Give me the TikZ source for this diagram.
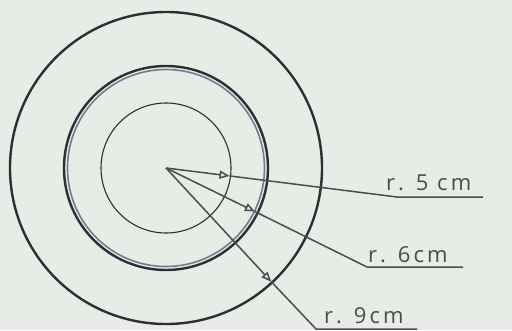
\documentclass[tikz,border=0pt]{standalone}
\usepackage{fontspec}
\setmainfont{Open Sans}
\usetikzlibrary{arrows.meta,calc}
\definecolor{paper}{HTML}{E8ECE6}
\definecolor{ink}{HTML}{2E2E34}
\definecolor{pencil}{HTML}{4A4C4E}
\definecolor{bluish}{HTML}{7A7890}
\tikzset{
  ring/.style={draw=ink, line width=2.4pt},
  thinring/.style={draw=ink, line width=1.1pt},
  radius line/.style={draw=pencil, line width=1.5pt},
  radius arrow/.style={radius line, -{Triangle[open, length=10pt, width=8pt]}},
  lbl/.style={font=\fontsize{22}{22}\selectfont\addfontfeatures{LetterSpace=14}, text=pencil, anchor=base west, inner sep=0pt}
}
\begin{document}
\begin{tikzpicture}[x=1pt,y=-1pt]
\fill[paper] (0,0) rectangle (512,330);
\useasboundingbox (0,0) rectangle (512,330);
\coordinate (c) at (166,168);
% circles
\draw[ring] (c) circle[radius=156pt];
\draw[ring] (c) circle[radius=102pt];
\draw[draw=bluish, line width=1.6pt] (c) circle[radius=98.5pt];
\draw[thinring] (c) circle[radius=65pt];
% arrow tips on circles
\coordinate (t5) at ($(c)+(7.1:64)$);
\coordinate (t6) at ($(c)+(26.1:99)$);
\coordinate (t9) at ($(c)+(47.2:155)$);
% label line corners
\coordinate (e5) at (397,197);
\coordinate (u5) at (483,197);
\coordinate (e6) at (367,267);
\coordinate (u6) at (463,267);
\coordinate (e9) at (316,329);
\coordinate (u9) at (417,329);
\draw[radius arrow] (c) -- (t5);
\draw[radius line] (t5) -- (e5) -- (u5);
\draw[radius arrow] (c) -- (t6);
\draw[radius line] (t6) -- (e6) -- (u6);
\draw[radius arrow] (c) -- (t9);
\draw[radius line] (t9) -- (e9) -- (u9);
% labels
\node[lbl] (l5) at (386,190) {r. 5 cm};
\node[lbl] (l6) at (368,262) {r. 6cm};
\node[lbl] (l9) at (324,323) {r. 9cm};
\end{tikzpicture}
\end{document}
